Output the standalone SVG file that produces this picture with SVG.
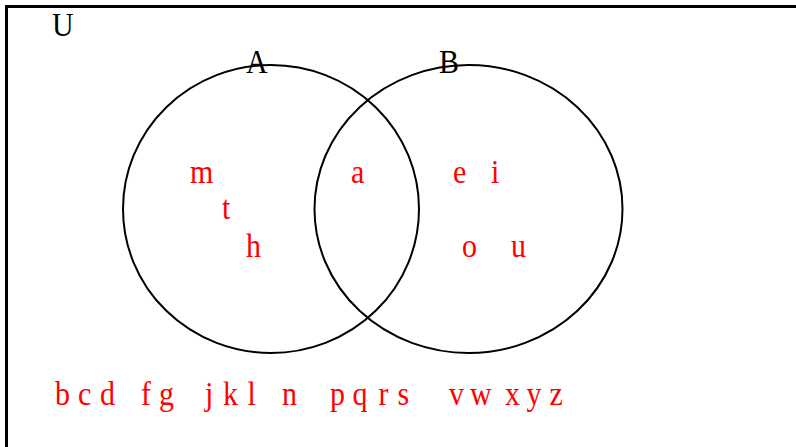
<svg xmlns="http://www.w3.org/2000/svg" width="796" height="447" viewBox="0 0 796 447">
<style>
.lbl{font-family:"Liberation Serif","Times New Roman",serif;font-size:30px;fill:#000}
.el{font-family:"Liberation Serif","Times New Roman",serif;font-size:30px;fill:#ff0000}
.set{fill:none;stroke:#000;stroke-width:2}
</style>
<rect width="796" height="447" fill="#fff"/>
<g id="universe">
<path d="M6.5 450 V6.5 H800" fill="none" stroke="#000" stroke-width="3"/>
<text class="lbl" transform="translate(52,36) scale(1,1.1)">U</text>
</g>
<g id="setA">
<ellipse class="set" cx="271" cy="209" rx="148" ry="144"/>
<text class="lbl" transform="translate(246,73) scale(1,1.1)">A</text>
</g>
<g id="setB">
<ellipse class="set" cx="468.5" cy="209" rx="154" ry="144"/>
<text class="lbl" transform="translate(439,73) scale(1,1.1)">B</text>
</g>
<g id="elements">
<text class="el" transform="translate(190,183) scale(1,1.1)">m</text>
<text class="el" transform="translate(222,219) scale(1,1.1)">t</text>
<text class="el" transform="translate(246,256.5) scale(1,1.1)">h</text>
<text class="el" transform="translate(351,183) scale(1,1.1)">a</text>
<text class="el" transform="translate(453,183) scale(1,1.1)">e</text>
<text class="el" transform="translate(491,183) scale(1,1.1)">i</text>
<text class="el" transform="translate(462,256.5) scale(1,1.1)">o</text>
<text class="el" transform="translate(511,256.5) scale(1,1.1)">u</text>
<text class="el" transform="translate(0,405) scale(1,1.1)" x="55 78 100 141 159 205 223 247.5 282 330 352.5 378.5 397.5 449 470 505 526.5 549.5">bcdfgjklnpqrsvwxyz</text>
</g>
</svg>
